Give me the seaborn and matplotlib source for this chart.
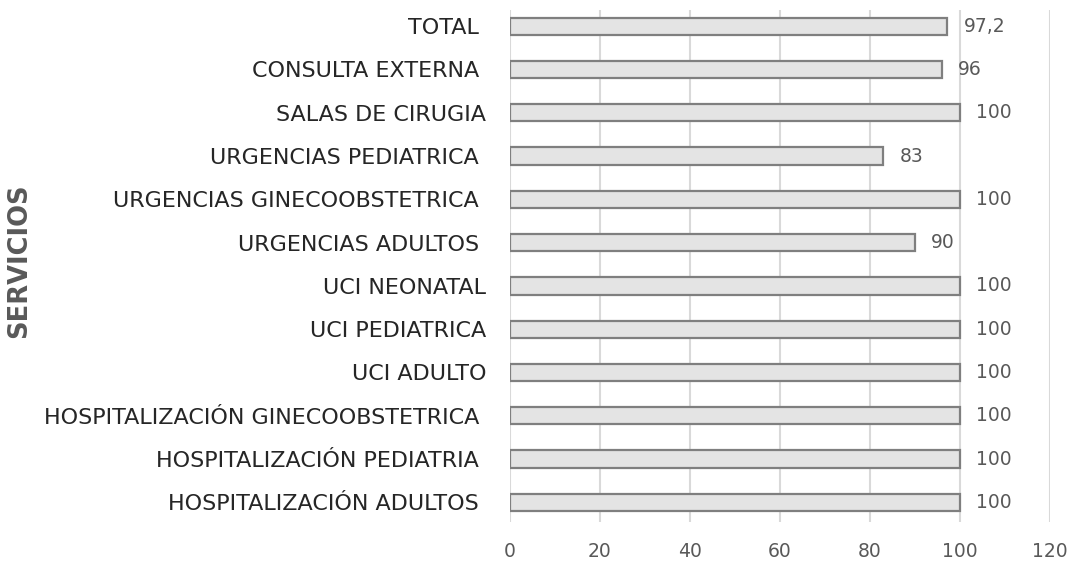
import matplotlib
matplotlib.use("Agg")
import matplotlib.pyplot as plt
import seaborn as sns
import pandas as pd

servicios = ["TOTAL ", "CONSULTA EXTERNA ", "SALAS DE CIRUGIA", "URGENCIAS PEDIATRICA ",
             "URGENCIAS GINECOOBSTETRICA ", "URGENCIAS ADULTOS ", "UCI NEONATAL",
             "UCI PEDIATRICA", "UCI ADULTO", "HOSPITALIZACIÓN GINECOOBSTETRICA ",
             "HOSPITALIZACIÓN PEDIATRIA ", "HOSPITALIZACIÓN ADULTOS "]
valores = [97.2, 96, 100, 83, 100, 90, 100, 100, 100, 100, 100, 100]
etiquetas = ["97,2", "96", "100", "83", "100", "90", "100", "100", "100", "100", "100", "100"]
x_ticks = [0, 20, 40, 60, 80, 100, 120]

sns.set_theme(style="white")
plt.rcParams['font.family'] = ['DejaVu Sans']

df = pd.DataFrame({"servicio": servicios, "valor": valores})

fig = plt.figure(figsize=(10.71, 5.67), dpi=100)
ax = fig.add_axes([0.476, 0.079, 0.504, 0.903])

sns.barplot(data=df, x="valor", y="servicio", orient="h", ax=ax,
            color="#e4e4e4", edgecolor="#7f7f7f", linewidth=1.6, width=0.4,
            saturation=1)

ax.set_xlim(0, 120)
ax.set_ylim(11.46, -0.37)
ax.set_xticks(x_ticks)
ax.set_xticklabels([str(t) for t in x_ticks], color="#595959", fontsize=13.5)
ax.tick_params(axis="x", length=0, pad=14)
ax.tick_params(axis="y", length=0, pad=17)
ax.set_yticks(range(len(servicios)))
ax.set_yticklabels(servicios, color="#262626", fontsize=16)
ax.grid(axis="x", color="#d9d9d9", linewidth=1.5)
ax.set_axisbelow(True)
for s in ax.spines.values():
    s.set_visible(False)
ax.set_xlabel("")
ax.set_ylabel("SERVICIOS", fontsize=18.5, fontweight="bold", color="#595959")
ax.yaxis.set_label_coords(-0.885, 0.51)

for i, (v, t) in enumerate(zip(valores, etiquetas)):
    ax.annotate(t, (v, i), xytext=(12, 0), textcoords="offset points",
                va="center", ha="left", fontsize=13.5, color="#595959")

fig.savefig("out.png", dpi=100)
